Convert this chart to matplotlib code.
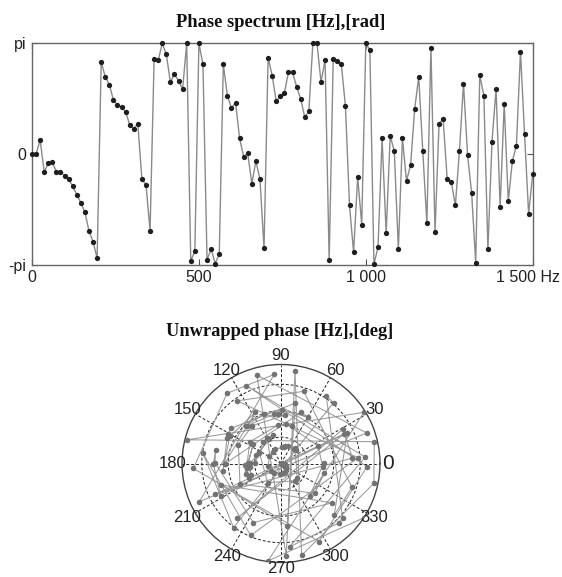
import numpy as np
import matplotlib
matplotlib.use("Agg")
import matplotlib.pyplot as plt

# ---- data ----
n_bins = 124
f_max_hz = 1500
# phase values in units of pi, one per frequency bin
phase_over_pi = [
    0.00, -0.003, 0.124, -0.164, -0.088, -0.076, -0.164, -0.164, -0.197, -0.230,
    -0.294, -0.370, -0.442, -0.530, -0.697, -0.794, -0.942, 0.827, 0.694, 0.624,
    0.485, 0.439, 0.421, 0.379, 0.261, 0.227, 0.270, -0.230, -0.279, -0.694,
    0.852, 0.842, 0.997, 0.897, 0.645, 0.724, 0.655, 0.585, 0.997, -0.967,
    -0.882, 0.997, 0.806, -0.958, -0.861, -0.991, -0.906, 0.806, 0.524, 0.412,
    0.461, 0.139, -0.027, 0.003, -0.270, -0.067, -0.230, -0.852, 0.867, 0.706,
    0.473, 0.518, 0.548, 0.736, 0.736, 0.606, 0.497, 0.330, 0.382, 1.000,
    1.000, 0.648, 0.845, -0.958, 0.858, 0.836, 0.806, 0.427, -0.467, -0.891,
    -0.209, -0.639, 0.997, 0.936, -0.997, -0.845, 0.139, -0.715, 0.161, 0.024,
    -0.861, 0.139, -0.245, -0.103, 0.403, 0.694, 0.024, -0.627, 0.958, -0.703,
    0.273, 0.312, -0.230, -0.255, -0.467, 0.024, 0.633, -0.012, -0.355, -0.982,
    0.709, 0.524, -0.861, 0.109, 0.585, -0.482, 0.452, -0.430, -0.067, 0.073,
    0.921, 0.176, -0.542, -0.185,
]
x_ticks = [0, 500, 1000, 1500]
x_tick_labels = ["0", "500", "1 000", "1 500 Hz"]
y_tick_labels = ["-pi", "0", "pi"]
polar_angle_labels = [0, 30, 60, 90, 120, 150, 180, 210, 240, 270, 300, 330]
polar_rings = [400, 800, 1200]

freq_hz = np.arange(n_bins) * f_max_hz / (n_bins - 1)
phase_rad = np.pi * np.array(phase_over_pi)

W, H = 562, 577
fig = plt.figure(figsize=(W / 100, H / 100), dpi=100)
sans = ["Liberation Sans", "DejaVu Sans"]
serif = ["Liberation Serif", "DejaVu Serif"]

# ---- top: phase spectrum ----
ax = fig.add_axes([32 / W, 1 - 264.5 / H, 500.7 / W, 221.5 / H])
ax.plot(freq_hz, phase_rad, color="#8a8a8a", lw=1.0, zorder=2, clip_on=False)
ax.plot(freq_hz, phase_rad, ls="none", marker="o", ms=3.8, mew=0,
        color="#1e1e1e", zorder=3, clip_on=False)
ax.set_xlim(0, f_max_hz)
ax.set_ylim(-np.pi, np.pi)
ax.set_xticks(x_ticks)
# last tick label is drawn separately (right-aligned so it stays inside the figure)
ax.set_xticklabels(x_tick_labels[:-1] + [""], family=sans, fontsize=11.5,
                   color="#222222")
ax.annotate(x_tick_labels[-1], xy=(1, 0), xycoords="axes fraction",
            xytext=(19.5, -3.6), textcoords="offset points", ha="right",
            va="top", family=sans, fontsize=11.5, color="#222222",
            annotation_clip=False)
ax.set_yticks([-np.pi, 0, np.pi])
ax.set_yticklabels(y_tick_labels, family=sans, fontsize=11.5, color="#222222")
ax.tick_params(direction="in", length=4, width=0.8, color="#555555",
               top=True, right=True, pad=4)
for s in ax.spines.values():
    s.set_color("#666666")
    s.set_linewidth(1.0)

fig.text(281 / W, 1 - 26.7 / H, "Phase spectrum [Hz],[rad]", ha="center",
         va="baseline", family=serif, fontweight="bold", fontsize=13.3,
         color="#111111")

# ---- bottom: polar plot ----
cx, cy, R = 281, 463.5, 99
pax = fig.add_axes([(cx - R) / W, 1 - (cy + R) / H, 2 * R / W, 2 * R / H],
                   projection="polar")
pax.set_axisbelow(True)
pax.plot(phase_rad, freq_hz, color="#9a9a9a", lw=0.75, zorder=2)
pax.plot(phase_rad, freq_hz, ls="none", marker="o", ms=4.0, mew=0,
         color="#737373", zorder=3)
pax.set_rlim(0, f_max_hz)
pax.set_thetagrids(polar_angle_labels, labels=[""] * len(polar_angle_labels))
pax.set_rgrids(polar_rings, labels=[""] * len(polar_rings))
pax.grid(True, color="#222222", lw=0.7, ls=(0, (3, 2)))
pax.spines["polar"].set_color("#444444")
pax.spines["polar"].set_linewidth(1.0)
pax.tick_params(length=0)
for a in polar_angle_labels:
    fs = 15 if a == 0 else 12
    if a == 0:
        rr = 1.08
    elif a == 270:
        rr = 1.06
    else:
        rr = 1.09
    pax.text(np.deg2rad(a), rr * f_max_hz, str(a), ha="center", va="center",
             family=sans, fontsize=fs, color="#222222", clip_on=False)

fig.text(280 / W, 1 - 336 / H, "Unwrapped phase [Hz],[deg]", ha="center",
         va="baseline", family=serif, fontweight="bold", fontsize=13.2,
         color="#111111")

fig.savefig("out.png", dpi=100)
